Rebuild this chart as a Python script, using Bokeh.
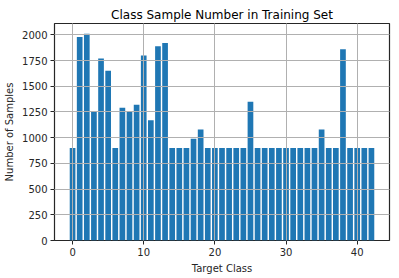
from bokeh.plotting import figure
from bokeh.models import Range1d, FixedTicker, ColumnDataSource
from bokeh.embed import file_html
from bokeh.resources import INLINE

classes = list(range(43))
counts = [900, 1980, 2010, 1260, 1770, 1650, 900, 1290, 1260, 1320,
          1800, 1170, 1890, 1920, 900, 900, 900, 990, 1080, 900,
          900, 900, 900, 900, 900, 1350, 900, 900, 900, 900,
          900, 900, 900, 900, 900, 1080, 900, 900, 1860, 900,
          900, 900, 900]
x_ticks = [0, 10, 20, 30, 40]
y_ticks = [0, 250, 500, 750, 1000, 1250, 1500, 1750, 2000]

src = ColumnDataSource(dict(x=classes, top=counts))

p = figure(width=399, height=278, output_backend="svg", toolbar_location=None,
           x_range=Range1d(-2.54, 44.54), y_range=Range1d(0, 2110.5),
           title="Class Sample Number in Training Set",
           min_border_left=54, min_border_right=10, min_border_top=23, min_border_bottom=38)
p.vbar(x="x", top="top", bottom=0, width=0.8, source=src, fill_color="#1f77b4", line_color=None)

font = "DejaVu Sans"
p.title.align = "center"
p.title.text_font = font
p.title.text_font_size = "12px"
p.title.text_font_style = "normal"
p.title.text_color = "#000000"
p.title.standoff = 3

for ax in (p.xaxis[0], p.yaxis[0]):
    ax.major_label_text_font = font
    ax.major_label_text_font_size = "10px"
    ax.major_label_text_color = "#262626"
    ax.axis_label_text_font = font
    ax.axis_label_text_font_size = "10px"
    ax.axis_label_text_font_style = "normal"
    ax.axis_label_text_color = "#262626"
    ax.major_tick_out = 4
    ax.major_tick_in = 0
    ax.minor_tick_out = 0
    ax.minor_tick_in = 0
    ax.axis_line_color = None
    ax.major_tick_line_color = "#262626"
    ax.axis_label_standoff = 4
    ax.major_label_standoff = 3

p.xaxis[0].ticker = FixedTicker(ticks=x_ticks)
p.yaxis[0].ticker = FixedTicker(ticks=y_ticks)
p.xaxis[0].axis_label = "Target Class"
p.yaxis[0].axis_label = "Number of Samples"

for g in (p.xgrid[0], p.ygrid[0]):
    g.grid_line_color = "#b0b0b0"
    g.grid_line_width = 1
    g.level = "overlay"

p.outline_line_color = "#262626"
p.outline_line_width = 1.2
p.background_fill_color = "white"
p.border_fill_color = "white"

open("out.html", "w").write(file_html(p, INLINE))
